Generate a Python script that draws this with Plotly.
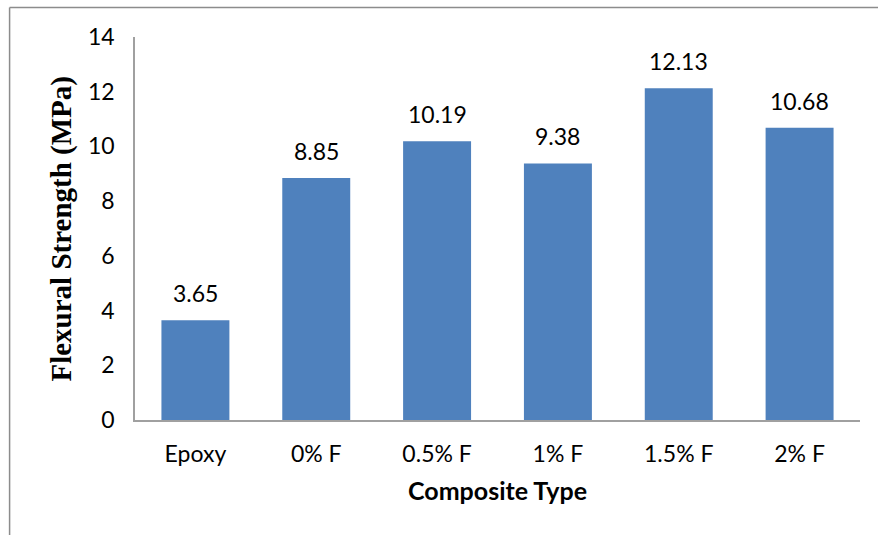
import plotly.graph_objects as go

# Flexural strength of epoxy and fibre-filled composites
composites = ["Epoxy", "0% F", "0.5% F", "1% F", "1.5% F", "2% F"]
strength_mpa = [3.65, 8.85, 10.19, 9.38, 12.13, 10.68]
y_ticks = [0, 2, 4, 6, 8, 10, 12, 14]

W, H = 878, 535
L, R, T, B = 135, 17.5, 37, 115
pw, ph = W - L - R, H - T - B

SANS = "Lato, Open Sans, sans-serif"


def px_to_paper(x, y):
    return (x - L) / pw, (H - B - y) / ph


fig = go.Figure(
    go.Bar(
        x=composites,
        y=strength_mpa,
        marker=dict(color="#4F81BD", line=dict(width=0)),
        hoverinfo="x+y",
    )
)

# Value labels above each bar
for name, v in zip(composites, strength_mpa):
    fig.add_annotation(
        x=name, y=v, xref="x", yref="y",
        text=f"{v:.2f}", showarrow=False,
        yanchor="middle", yshift=27,
        font=dict(family=SANS, size=23, color="black"),
    )

# Vertical axis title, placed between the frame and the tick labels
tx, _ = px_to_paper(61, 0)
fig.add_annotation(
    x=tx, y=0.5, xref="paper", yref="paper",
    text="<b>Flexural Strength (MPa)</b>", showarrow=False,
    textangle=-90, xanchor="center", yanchor="middle",
    font=dict(family="Liberation Serif, Times New Roman, serif", size=29, color="black"),
)

axis_font = dict(family=SANS, size=23, color="black")

fig.update_layout(
    width=W,
    height=H,
    margin=dict(l=L, r=R, t=T, b=B),
    plot_bgcolor="white",
    paper_bgcolor="white",
    bargap=0.4375,
    showlegend=False,
    xaxis=dict(
        showline=True,
        linecolor="#A0A0A0",
        linewidth=1.5,
        ticks="",
        tickfont=axis_font,
        showgrid=False,
        ticklabelstandoff=13,
        title=dict(
            text="<b>Composite Type</b>",
            font=dict(family=SANS, size=25, color="black"),
            standoff=16,
        ),
    ),
    yaxis=dict(
        range=[0, 14],
        tickvals=y_ticks,
        showline=True,
        linecolor="#A0A0A0",
        linewidth=1.5,
        ticks="",
        tickfont=axis_font,
        showgrid=False,
        zeroline=False,
        ticklabelstandoff=14,
    ),
)

# Outer frame: top and left edges of the chart box
x0, y0 = px_to_paper(9.5, 7.5)
x1, _ = px_to_paper(W + 2, 7.5)
_, y1 = px_to_paper(9.5, H + 2)
fig.add_shape(type="line", xref="paper", yref="paper", x0=x0, y0=y0, x1=x1, y1=y0,
              line=dict(color="#8C8C8C", width=1.5), layer="above")
fig.add_shape(type="line", xref="paper", yref="paper", x0=x0, y0=y0, x1=x0, y1=y1,
              line=dict(color="#8C8C8C", width=1.5), layer="above")

fig.write_html("out.html")
